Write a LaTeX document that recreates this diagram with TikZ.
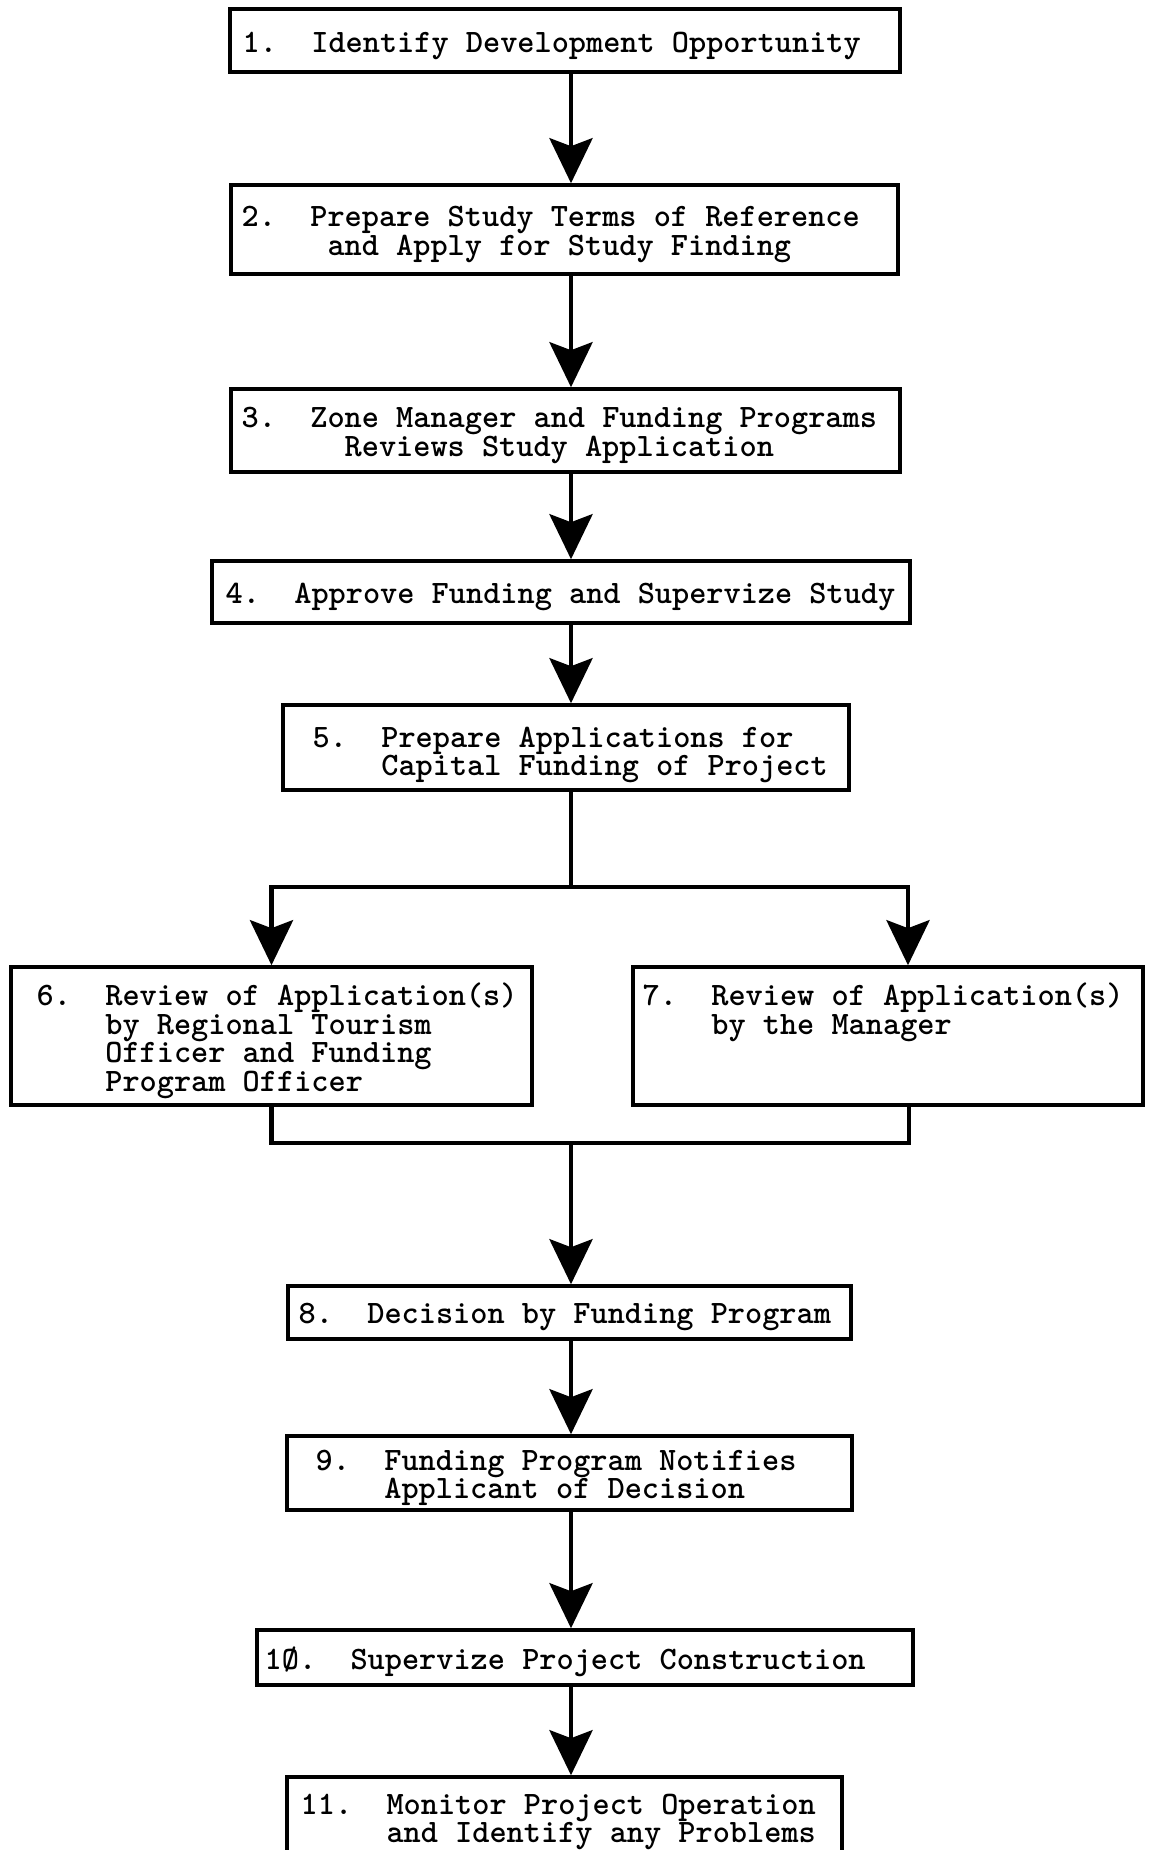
\documentclass[tikz,border=0pt]{standalone}
\usetikzlibrary{arrows.meta}
\tikzset{
    >={Stealth[length=0.45cm, width=0.43cm, inset=0.08cm]},
    stepbox/.style={
        draw,
        line width=1pt,
        inner sep=0pt
    },
    steptext/.style={
        inner sep=0pt,
        align=left,
        anchor=west,
        font={\ttfamily\bfseries\fontsize{9.3}{8.1}\selectfont\frenchspacing\lineskiplimit=-20pt}
    },
    flow/.style={->, line width=1.3pt},
    wire/.style={line width=1.3pt}
}

\begin{document}
\begin{tikzpicture}[x=0.01cm, y=-0.01cm]

    \useasboundingbox (0,0) rectangle (1149,1850);
    \clip (0,0) rectangle (1149,1850);

    % Cajas
    \node[stepbox, minimum width=6.70cm, minimum height=0.63cm] (s1)  at (565,40.5)    {};
    \node[stepbox, minimum width=6.67cm, minimum height=0.89cm] (s2)  at (564.5,229.5) {};
    \node[stepbox, minimum width=6.69cm, minimum height=0.83cm] (s3)  at (565.5,430.5) {};
    \node[stepbox, minimum width=6.98cm, minimum height=0.62cm] (s4)  at (561,592)     {};
    \node[stepbox, minimum width=5.66cm, minimum height=0.85cm] (s5)  at (566,747.5)   {};

    \node[stepbox, minimum width=5.21cm, minimum height=1.38cm] (s6)  at (271.5,1036)  {};
    \node[stepbox, minimum width=5.10cm, minimum height=1.38cm] (s7)  at (888,1036)    {};

    \node[stepbox, minimum width=5.63cm, minimum height=0.53cm] (s8)  at (569.5,1312.5) {};
    \node[stepbox, minimum width=5.65cm, minimum height=0.74cm] (s9)  at (569.5,1473)  {};
    \node[stepbox, minimum width=6.56cm, minimum height=0.55cm] (s10) at (585,1657.5)  {};
    \node[stepbox, minimum width=5.55cm, minimum height=1.02cm] (s11) at (564.5,1828)  {};

    % Textos
    \node[steptext] (t1) at (242,45.5)
        {1.\ \ Identify Development Opportunity};
    \node[steptext] (t2) at (241,234.5)
        {2.\ \ Prepare Study Terms of Reference\\
         \ \ \ \ \ and Apply for Study Finding};
    \node[steptext] (t3) at (241,435.5)
        {3.\ \ Zone Manager and Funding Programs\\
         \ \ \ \ \ \ Reviews Study Application};
    \node[steptext] (t4) at (225,597)
        {4.\ \ Approve Funding and Supervize Study};
    \node[steptext] (t5) at (312,755)
        {5.\ \ Prepare Applications for\\
         \ \ \ \ Capital Funding of Project};
    \node[steptext] (t6) at (36,1041)
        {6.\ \ Review of Application(s)\\
         \ \ \ \ by Regional Tourism\\
         \ \ \ \ Officer and Funding\\
         \ \ \ \ Program Officer};
    \node[steptext, anchor=north west] (t7) at ({642,0} |- t6.north)
        {7.\ \ Review of Application(s)\\
         \ \ \ \ by the Manager};
    \node[steptext] (t8) at (298,1317)
        {8.\ \ Decision by Funding Program};
    \node[steptext] (t9) at (315,1478)
        {9.\ \ Funding Program Notifies\\
         \ \ \ \ Applicant of Decision};
    \node[steptext] (t10) at (264,1662)
        {1\O.\ \ Supervize Project Construction};
    \node[steptext] (t11) at (300,1822)
        {11.\ \ Monitor Project Operation\\
         \ \ \ \ \ and Identify any Problems};

    % Puntos de union
    \coordinate (trunk) at (571,0);
    \coordinate (fork)  at (571,887);
    \coordinate (join)  at (571,1143);

    % Flechas
    \path[flow]
        (s1.south -| trunk)  edge (s2.north -| trunk)
        (s2.south -| trunk)  edge (s3.north -| trunk)
        (s3.south -| trunk)  edge (s4.north -| trunk)
        (s4.south -| trunk)  edge (s5.north -| trunk)
        (join)               edge (s8.north -| trunk)
        (s8.south -| trunk)  edge (s9.north -| trunk)
        (s9.south -| trunk)  edge (s10.north -| trunk)
        (s10.south -| trunk) edge (s11.north -| trunk);

    % Bifurcacion hacia 6 y 7
    \draw[wire] (s5.south -| trunk) -- (fork);
    \draw[flow] (fork) -| (s6.north);
    \draw[flow] (fork) -| ([xshift=0.2cm]s7.north);

    % Union de 6 y 7
    \draw[wire] (s6.south) |- (join) -| ([xshift=0.21cm]s7.south);

\end{tikzpicture}
\end{document}
